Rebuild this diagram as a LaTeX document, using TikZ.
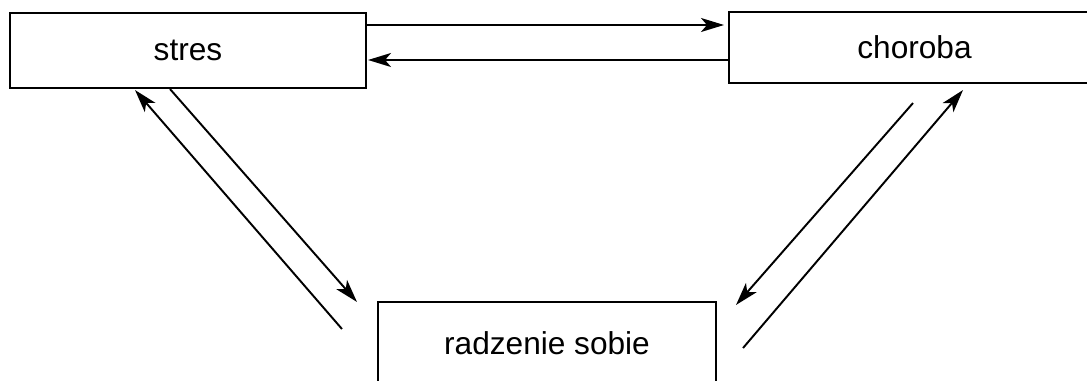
\documentclass[tikz,border=0pt]{standalone}
\usepackage{fontspec}
\setmainfont{Liberation Sans}
\usetikzlibrary{arrows.meta,calc}
\begin{document}
\begin{tikzpicture}[
            x=0.02cm, y=-0.02cm,
            box/.style={draw, line width=1.2pt, inner sep=0pt,
              font=\fontsize{18}{21}\selectfont},
            arr/.style={-{Stealth[length=4.6mm,width=2.8mm,inset=1.2mm]}, line width=1.1pt},
            ]
            \useasboundingbox (0,0) rectangle (1087,381);
            \node[box, minimum width=7.12cm, minimum height=1.5cm] (stres) at (188,50.5) {stres};
            \node[box, minimum width=7.42cm, minimum height=1.42cm] (choroba) at (914.5,47.5) {choroba};
            \node[box, minimum width=6.76cm, minimum height=1.64cm] (radzenie) at (547,343) {radzenie sobie};
            \draw[arr] ($(stres.east)+(0,-25.5)$) -- ($(choroba.west)+(-4,-22.5)$);
            \draw[arr] ($(choroba.west)+(0,12.5)$) -- ($(stres.east)+(1,9.5)$);
            \draw[arr] ($(stres.south)+(-18,0)$) -- ($(radzenie.north west)+(-20,1)$);
            \draw[arr] ($(radzenie.west)+(-35,-14)$) -- ($(stres.south)+(-53,1)$);
            \draw[arr] ($(choroba.south)+(-1.5,19)$) -- ($(radzenie.north east)+(19,4)$);
            \draw[arr] ($(radzenie.east)+(26,5)$) -- ($(choroba.south)+(48.5,6)$);
\end{tikzpicture}
\end{document}
